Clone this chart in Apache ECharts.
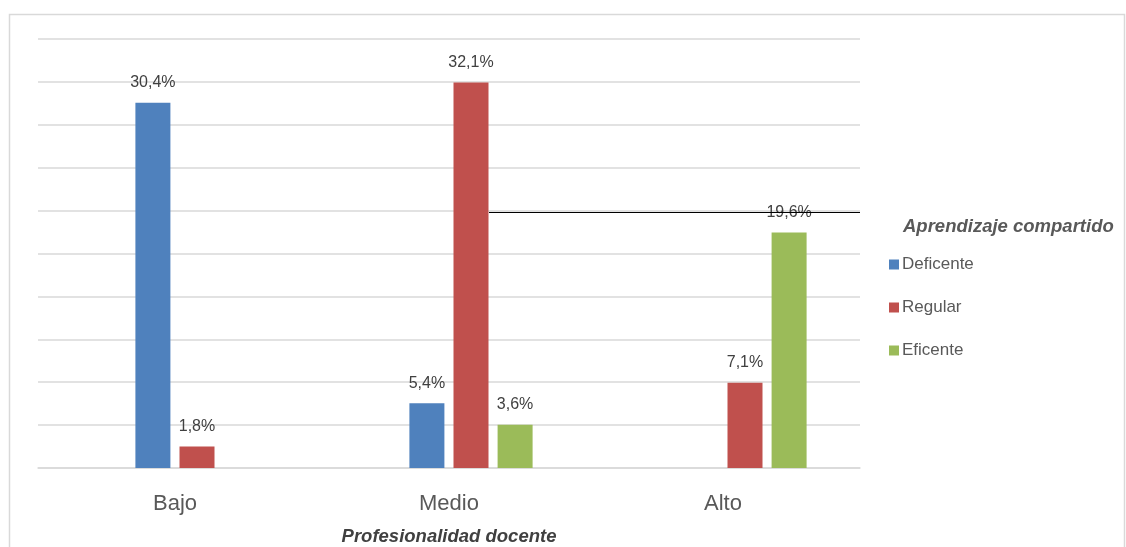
<!DOCTYPE html>
<html>
<head>
<meta charset="utf-8">
<script src="https://cdn.jsdelivr.net/npm/echarts@6/dist/echarts.min.js"></script>
<style>
  html, body {margin: 0; padding: 0; background: #fff;}
  #chart {width: 1126px; height: 547px;}
</style>
</head>
<body>
<div id="chart"></div>
<script>
const categories = ["Bajo", "Medio", "Alto"]
const seriesNames = ["Deficente", "Regular", "Eficente"]
const deficente = [30.4, 5.4, null]
const regular = [1.8, 32.1, 7.1]
const eficente = [null, 3.6, 19.6]
const colors = ["#4F81BD", "#C0504D", "#9BBB59"]

// escala: 2 casos de 56 por línea de cuadrícula
const yStep = 200 / 56
const yMax = yStep * 10

const font = "'Liberation Sans', Arial, sans-serif"
const chart = echarts.init(document.getElementById("chart"))

const pct = v => v.value == null ? "" : v.value.toFixed(1).replace(".", ",") + "%"

chart.setOption({
    animation: false,
    textStyle: {fontFamily: font},
    grid: [
        {left: 38, right: 266, top: 39, bottom: 79, outerBoundsMode: "none"},
        {left: 60, right: 244, top: 39, bottom: 79, outerBoundsMode: "none"}
    ],
    xAxis: [
        {
            type: "category", gridIndex: 0, data: categories,
            axisLine: {lineStyle: {color: "#d9d9d9", width: 1.5}},
            axisTick: {show: false},
            axisLabel: {fontSize: 22, color: "#595959", margin: 25},
            name: "Profesionalidad docente", nameLocation: "middle", nameGap: 59,
            nameTextStyle: {fontSize: 18.5, fontWeight: "bold", fontStyle: "italic", color: "#404040"}
        },
        {type: "category", gridIndex: 1, data: categories, show: false}
    ],
    yAxis: [
        {
            type: "value", gridIndex: 0, min: 0, max: yMax, interval: yStep,
            axisLabel: {show: false}, axisLine: {show: false}, axisTick: {show: false},
            splitLine: {lineStyle: {color: "#d9d9d9", width: 1.5}}
        },
        {type: "value", gridIndex: 1, min: 0, max: yMax, interval: yStep, show: false, splitLine: {show: false}}
    ],
    legend: {
        orient: "vertical", left: 884, top: 251,
        itemWidth: 10, itemHeight: 10, itemGap: 26,
        icon: "rect",
        data: seriesNames,
        textStyle: {fontSize: 17, color: "#595959", padding: [0, 0, 0, -2]}
    },
    graphic: [
        {type: "rect", shape: {x: 9.5, y: 14.5, width: 1115, height: 540}, style: {fill: null, stroke: "#d9d9d9", lineWidth: 1.5}, silent: true},
        {type: "text", left: 903, top: 217, style: {text: "Aprendizaje compartido", font: "italic bold 18.5px " + font, fill: "#595959"}},
        {type: "line", shape: {x1: 489, y1: 212.5, x2: 860, y2: 212.5}, style: {stroke: "#000", lineWidth: 1.2}, z: 10}
    ],
    series: [deficente, regular, eficente].map((data, i) => ({
        name: seriesNames[i], type: "bar",
        xAxisIndex: 1, yAxisIndex: 1,
        data, barWidth: 35, barGap: "26%",
        itemStyle: {color: colors[i]},
        label: {show: true, position: "top", distance: 12, fontSize: 16, color: "#404040", formatter: pct}
    }))
})
</script>
</body>
</html>
